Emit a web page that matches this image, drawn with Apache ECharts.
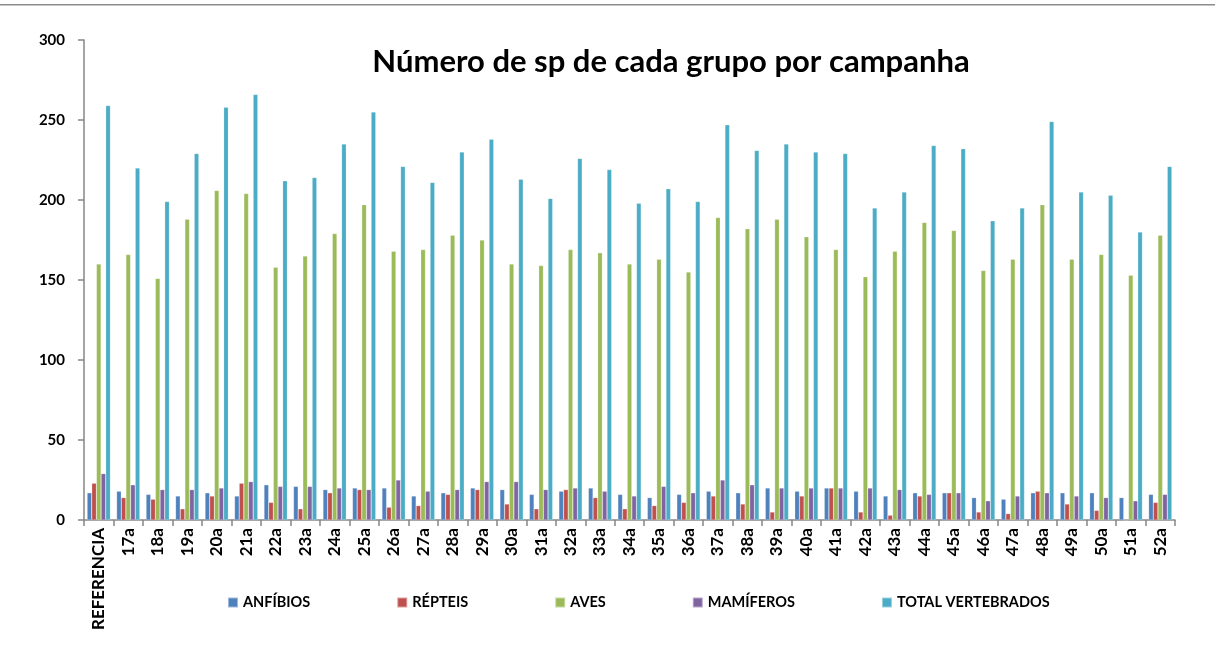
<!DOCTYPE html>
<html lang="pt">
<head>
    <meta charset="UTF-8">
    <title>Número de sp de cada grupo por campanha</title>
    <script src="https://cdn.jsdelivr.net/npm/echarts@6/dist/echarts.min.js"></script>
    <style>
        html, body { margin: 0; padding: 0; background: #fff; }
        #main { width: 1215px; height: 668px; }
    </style>
</head>
<body>
<div id="main"></div>
<script type="text/javascript">
    // campanhas
    var campanhas = ['REFERENCIA', '17a', '18a', '19a', '20a', '21a', '22a', '23a', '24a', '25a',
        '26a', '27a', '28a', '29a', '30a', '31a', '32a', '33a', '34a', '35a', '36a', '37a', '38a',
        '39a', '40a', '41a', '42a', '43a', '44a', '45a', '46a', '47a', '48a', '49a', '50a', '51a', '52a'];

    var anfibios = [17, 18, 16, 15, 17, 15, 22, 21, 19, 20, 20, 15, 17, 20, 19, 16, 18, 20, 16,
        14, 16, 18, 17, 20, 18, 20, 18, 15, 17, 17, 14, 13, 17, 17, 17, 14, 16];
    var repteis = [23, 14, 13, 7, 15, 23, 11, 7, 17, 19, 8, 9, 16, 19, 10, 7, 19, 14, 7,
        9, 11, 15, 10, 5, 15, 20, 5, 3, 15, 17, 5, 4, 18, 10, 6, 0, 11];
    var aves = [160, 166, 151, 188, 206, 204, 158, 165, 179, 197, 168, 169, 178, 175, 160, 159, 169, 167, 160,
        163, 155, 189, 182, 188, 177, 169, 152, 168, 186, 181, 156, 163, 197, 163, 166, 153, 178];
    var mamiferos = [29, 22, 19, 19, 20, 24, 21, 21, 20, 19, 25, 18, 19, 24, 24, 19, 20, 18, 15,
        21, 17, 25, 22, 20, 20, 20, 20, 19, 16, 17, 12, 15, 17, 15, 14, 12, 16];
    var totalVert = [259, 220, 199, 229, 258, 266, 212, 214, 235, 255, 221, 211, 230, 238, 213, 201, 226, 219, 198,
        207, 199, 247, 231, 235, 230, 229, 195, 205, 234, 232, 187, 195, 249, 205, 203, 180, 221];

    var yTicks = [0, 50, 100, 150, 200, 250, 300];

    var fonte = 'Lato, "Open Sans", sans-serif';
    var myChart = echarts.init(document.getElementById('main'));

    function serie(nome, dados, cor) {
        return {
            name: nome,
            type: 'bar',
            data: dados,
            barGap: '0%',
            barCategoryGap: '21%',
            itemStyle: { color: cor, borderColor: 'rgba(255,255,255,0.45)', borderWidth: 0.5 },
            emphasis: { disabled: true }
        };
    }

    myChart.setOption({
        animation: false,
        textStyle: { fontFamily: fonte },
        title: {
            text: 'Número de sp de cada grupo por campanha',
            left: 666,
            textAlign: 'center',
            top: 41,
            textStyle: { fontSize: 31, fontWeight: 'bold', color: '#000', fontFamily: fonte }
        },
        graphic: [{
            type: 'rect',
            shape: { x: 0, y: 4, width: 1215, height: 1.5 },
            style: { fill: '#8c8c8c' },
            silent: true
        }],
        legend: {
            left: 222,
            top: 590,
            itemWidth: 10,
            itemHeight: 10,
            itemGap: 86,
            icon: 'rect',
            textStyle: { fontSize: 14.5, fontWeight: 'bold', color: '#000', fontFamily: fonte },
            data: ['ANFÍBIOS', 'RÉPTEIS', 'AVES', 'MAMÍFEROS', 'TOTAL VERTEBRADOS']
        },
        grid: { left: 84, right: 40, top: 40, bottom: 148 },
        xAxis: {
            type: 'category',
            data: campanhas,
            axisLine: { lineStyle: { color: '#868686', width: 1.5 } },
            axisTick: { show: true, length: 6, interval: 0, lineStyle: { color: '#868686', width: 1.5 } },
            axisLabel: {
                interval: 0,
                rotate: 90,
                margin: 8,
                fontSize: 17,
                fontWeight: 'bold',
                color: '#000',
                fontFamily: fonte
            }
        },
        yAxis: {
            type: 'value',
            min: yTicks[0],
            max: yTicks[yTicks.length - 1],
            interval: 50,
            splitLine: { show: false },
            axisLine: { show: true, lineStyle: { color: '#868686', width: 1.5 } },
            axisTick: { show: true, length: 6, lineStyle: { color: '#868686', width: 1.5 } },
            axisLabel: { fontSize: 15, fontWeight: 'bold', color: '#000', margin: 19, fontFamily: fonte }
        },
        series: [
            serie('ANFÍBIOS', anfibios, '#4F81BD'),
            serie('RÉPTEIS', repteis, '#C0504D'),
            serie('AVES', aves, '#9BBB59'),
            serie('MAMÍFEROS', mamiferos, '#8064A2'),
            serie('TOTAL VERTEBRADOS', totalVert, '#4BACC6')
        ]
    });
</script>
</body>
</html>
